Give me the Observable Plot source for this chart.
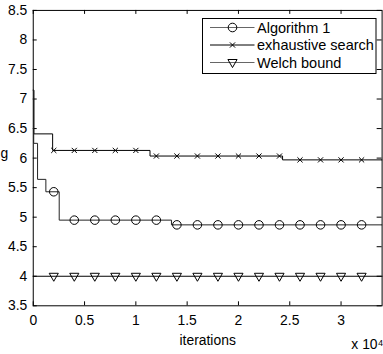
<!DOCTYPE html>
<html>
<head>
<meta charset="utf-8">
<script src="https://cdn.jsdelivr.net/npm/d3@7"></script>
<script src="https://cdn.jsdelivr.net/npm/@observablehq/plot@0.6"></script>
<style>
  html, body { margin: 0; padding: 0; background: #fff; overflow: hidden; }
  #wrap { position: relative; width: 383px; height: 354px; overflow: hidden; }
  #wrap svg { display: block; }
  #legend { position: absolute; left: 0; top: 0; pointer-events: none; }
</style>
</head>
<body>
<div id="wrap"></div>
<script>
// ---- data (iterations, value) ----
const algX  = [0, 45, 420, 1230, 2530, 13470, 34000];
const algY  = [7.15, 6.25, 5.64, 5.43, 4.95, 4.87, 4.87];
const exhX  = [0, 60, 1890, 11380, 24300, 34000];
const exhY  = [7.15, 6.41, 6.13, 6.035, 5.97, 5.97];
const welchX = [0, 34000];
const welchY = [4.0, 4.0];
const markerX = [2000, 4000, 6000, 8000, 10000, 12000, 14000, 16000,
                 18000, 20000, 22000, 24000, 26000, 28000, 30000, 32000];
const xTicks = [0, 5000, 10000, 15000, 20000, 25000, 30000];
const yTicks = [3.5, 4, 4.5, 5, 5.5, 6, 6.5, 7, 7.5, 8, 8.5];
const seriesNames = ["Algorithm 1", "exhaustive search", "Welch bound"];

// ---- helpers ----
const toPts = (xs, ys) => xs.map((x, i) => ({x, y: ys[i]}));
const stepAt = (xs, ys, x) => { let v = ys[0]; for (let i = 0; i < xs.length; i++) if (xs[i] <= x) v = ys[i]; return v; };
const markers = (xs, ys) => markerX.map(x => ({x, y: stepAt(xs, ys, x)}));

const triDown = { draw(ctx, size) { const r = Math.sqrt(size / Math.PI);
  ctx.moveTo(-r, -r * 0.65); ctx.lineTo(r, -r * 0.65); ctx.lineTo(0, r * 1.1); ctx.closePath(); } };
const times = { draw(ctx, size) { const r = Math.sqrt(size / Math.PI);
  ctx.moveTo(-r, -r); ctx.lineTo(r, r); ctx.moveTo(r, -r); ctx.lineTo(-r, r); } };
const ring = { draw(ctx, size) { const r = Math.sqrt(size / Math.PI);
  ctx.moveTo(r, 0); ctx.arc(0, 0, r, 0, 2 * Math.PI); } };

// ---- layout ----
const W = 386, H = 354, mL = 33, mR = 1.4, mT = 10, mB = 46.3;
const pw = W - mL - mR, ph = H - mT - mB, tk = 4;
const font = "'Liberation Sans', Arial, Helvetica, sans-serif";

const chart = Plot.plot({
  width: W, height: H,
  marginLeft: mL, marginRight: mR, marginTop: mT, marginBottom: mB,
  style: { fontFamily: font, fontSize: "14px", background: "white", color: "black", overflow: "visible" },
  x: { domain: [0, 34000] },
  y: { domain: [3.5, 8.5] },
  marks: [
    Plot.frame({ stroke: "black", strokeWidth: 1 }),
    Plot.tickX(xTicks, { x: d => d, insetTop: ph - tk, stroke: "black" }),
    Plot.tickX(xTicks, { x: d => d, insetBottom: ph - tk, stroke: "black" }),
    Plot.tickY(yTicks, { y: d => d, insetRight: pw - tk, stroke: "black" }),
    Plot.tickY(yTicks, { y: d => d, insetLeft: pw - 5, stroke: "black" }),
    Plot.axisX({ ticks: xTicks, tickSize: 0, tickPadding: 9, tickFormat: d => String(d / 1e4), label: null, fontSize: 14 }),
    Plot.axisY({ ticks: yTicks, tickSize: 0, tickPadding: 6, tickFormat: d => String(d), label: null, fontSize: 14 }),
    Plot.line(toPts(welchX, welchY), { x: "x", y: "y", stroke: "black", strokeWidth: 1 }),
    Plot.line(toPts(exhX, exhY), { x: "x", y: "y", curve: "step-after", stroke: "black", strokeWidth: 1 }),
    Plot.line(toPts(algX, algY), { x: "x", y: "y", curve: "step-after", stroke: "#222", strokeWidth: 1 }),
    Plot.dot(markers(algX, algY), { x: "x", y: "y", symbol: ring, r: 4.3, stroke: "black", fill: "none", strokeWidth: 1 }),
    Plot.dot(markers(exhX, exhY), { x: "x", y: "y", symbol: times, r: 2.6, stroke: "black", fill: "none", strokeWidth: 1 }),
    Plot.dot(markers(welchX, welchY), { x: "x", y: "y", symbol: triDown, r: 4.6, stroke: "black", fill: "none", strokeWidth: 1 }),
    Plot.text(["iterations"], { frameAnchor: "bottom", lineAnchor: "top", dy: 30, fontSize: 14, fill: "black" }),
    Plot.text(["x 10⁴"], { frameAnchor: "bottom-right", textAnchor: "start", lineAnchor: "middle", dx: -31, dy: 39.5, fontSize: 14, fill: "black" }),
    Plot.text(["g"], { frameAnchor: "left", textAnchor: "start", lineAnchor: "middle", dx: -33, dy: -5, fontSize: 14, fill: "black" })
  ]
});
document.getElementById("wrap").appendChild(chart);

// ---- legend overlay ----
const leg = d3.select("#wrap").append("svg").attr("id", "legend")
  .attr("width", 383).attr("height", 354)
  .style("font-family", font).style("font-size", "14.5px");
const bx = 202.5, by = 18.5, bw = 173.5, bh = 55;
leg.append("rect").attr("x", bx).attr("y", by).attr("width", bw).attr("height", bh)
  .attr("fill", "white").attr("stroke", "black").attr("stroke-width", 1);
const syms = [ring, times, triDown], rs = [4.3, 2.6, 4.6], lineCol = ["#666", "#000", "#666"];
seriesNames.forEach((name, i) => {
  const cy = 27.5 + i * 17.5;
  leg.append("line").attr("x1", 210).attr("x2", 254.5).attr("y1", cy).attr("y2", cy)
    .attr("stroke", lineCol[i]).attr("stroke-width", 1);
  leg.append("path").attr("transform", `translate(232.5,${cy})`)
    .attr("d", d3.symbol(syms[i], Math.PI * rs[i] * rs[i])())
    .attr("fill", "none").attr("stroke", "black").attr("stroke-width", 1);
  leg.append("text").attr("x", 257).attr("y", cy + 5).text(name);
});
</script>
</body>
</html>
